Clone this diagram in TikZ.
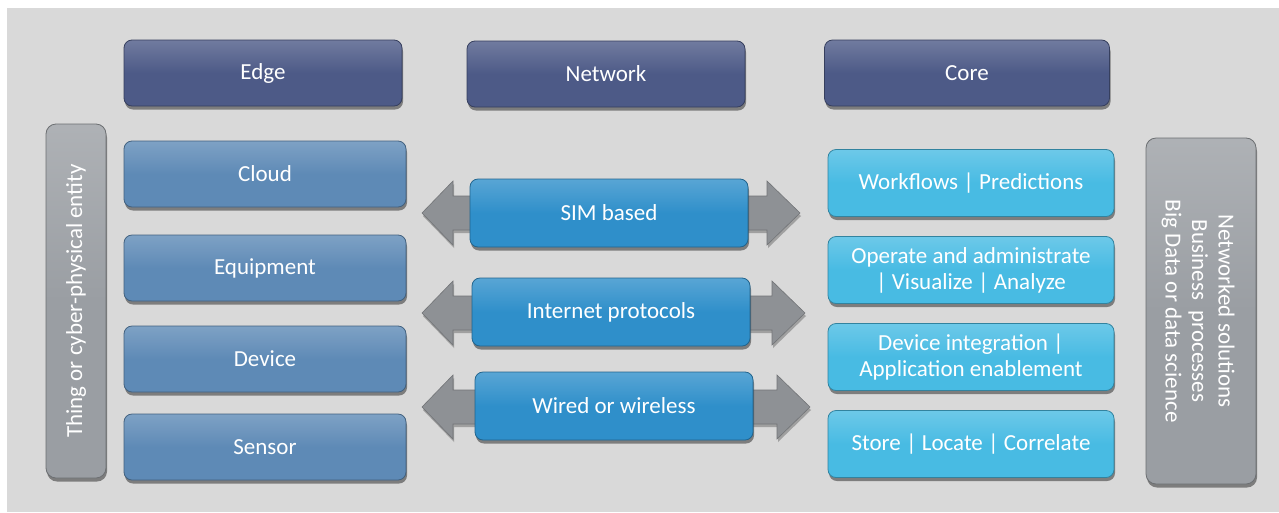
\documentclass[tikz,border=0pt]{standalone}
\usepackage{fontspec}
\setmainfont{Carlito}
\usetikzlibrary{shadows,calc}
\definecolor{bggrey}{HTML}{D9D9D9}
\definecolor{hdrblue}{HTML}{4D5A87}
\definecolor{edgeblue}{HTML}{5E8AB6}
\definecolor{netblue}{HTML}{2F8FCA}
\definecolor{coreblue}{HTML}{48BBE3}
\definecolor{sidegrey}{HTML}{9A9EA3}
\definecolor{arrgrey}{HTML}{8E9195}
\tikzset{
  boxbase/.style={rounded corners=8pt, draw=#1!70!black, line width=0.8pt,
    top color=#1!80!white, bottom color=#1, middle color=#1,
    drop shadow={shadow xshift=1pt, shadow yshift=-3.5pt, opacity=0.6, fill=black!75},
    text=white, font=\fontsize{23}{26}\selectfont, align=center, inner sep=0pt},
  hdr/.style={boxbase=hdrblue, minimum width=278pt, minimum height=66pt},
  edgebox/.style={boxbase=edgeblue, minimum width=282pt, minimum height=66pt},
  netbox/.style={boxbase=netblue, minimum width=278pt, minimum height=68pt},
  corebox/.style={boxbase=coreblue, minimum width=286pt, minimum height=67pt},
  sidebox/.style={boxbase=sidegrey, rounded corners=10pt},
  arrowfill/.style={fill=arrgrey, draw=arrgrey!80!black, line width=0.6pt,
    drop shadow={shadow xshift=1pt, shadow yshift=-3pt, opacity=0.4, fill=black!70}}
}
\newcommand\dblarrow[3]{%
  \path[arrowfill] (#2,#1) -- (#2+31,#1-32) -- (#2+31,#1-17) -- (#3-33,#1-17) -- (#3-33,#1-32)
   -- (#3,#1) -- (#3-33,#1+32) -- (#3-33,#1+17) -- (#2+31,#1+17) -- (#2+31,#1+32) -- cycle;}
\begin{document}
\begin{tikzpicture}[x=1pt,y=-1pt]
\useasboundingbox (0,0) rectangle (1279,512);
\fill[white] (0,0) rectangle (1279,512);
\fill[bggrey] (7,8) rectangle (1279,512);

% headers
\node[hdr] (edge) at (263,73) {Edge};
\node[hdr] (network) at (606,74) {Network};
\node[hdr, minimum width=285pt] (core) at (967,73) {Core};

% left side
\node[sidebox, minimum width=60pt, minimum height=354pt] (thing) at (76,301) {};
\node[rotate=90, text=white, font=\fontsize{23}{26}\selectfont] (thingtxt) at (thing.center) {Thing or cyber-physical entity};

% edge column
\node[edgebox] (cloud) at (265,174) {Cloud};
\node[edgebox] (equip) at (265,268) {Equipment};
\node[edgebox] (device) at (265,359) {Device};
\node[edgebox] (sensor) at (265,447) {Sensor};

% arrows
\dblarrow{213}{422}{800}
\dblarrow{313}{422}{805}
\dblarrow{407}{422}{810}

% network column
\node[netbox] (sim) at (609,213) {SIM based};
\node[netbox] (ip) at (611,312) {Internet protocols};
\node[netbox] (wired) at (614,406) {Wired or wireless};

% core column
\node[corebox] (wf) at (971,183) {Workflows | Predictions};
\node[corebox] (op) at (971,270) {Operate and administrate\\| Visualize | Analyze};
\node[corebox] (di) at (971,357) {Device integration |\\Application enablement};
\node[corebox] (store) at (971,444) {Store | Locate | Correlate};

% right side
\node[sidebox, minimum width=110pt, minimum height=346pt] (nets) at (1201,311) {};
\node[rotate=-90, text=white, font=\fontsize{23}{26.5}\selectfont, align=center] (netstxt) at (1198,311)
  {Networked solutions\\Business\ \ processes\\Big Data or data science};
\end{tikzpicture}
\end{document}
